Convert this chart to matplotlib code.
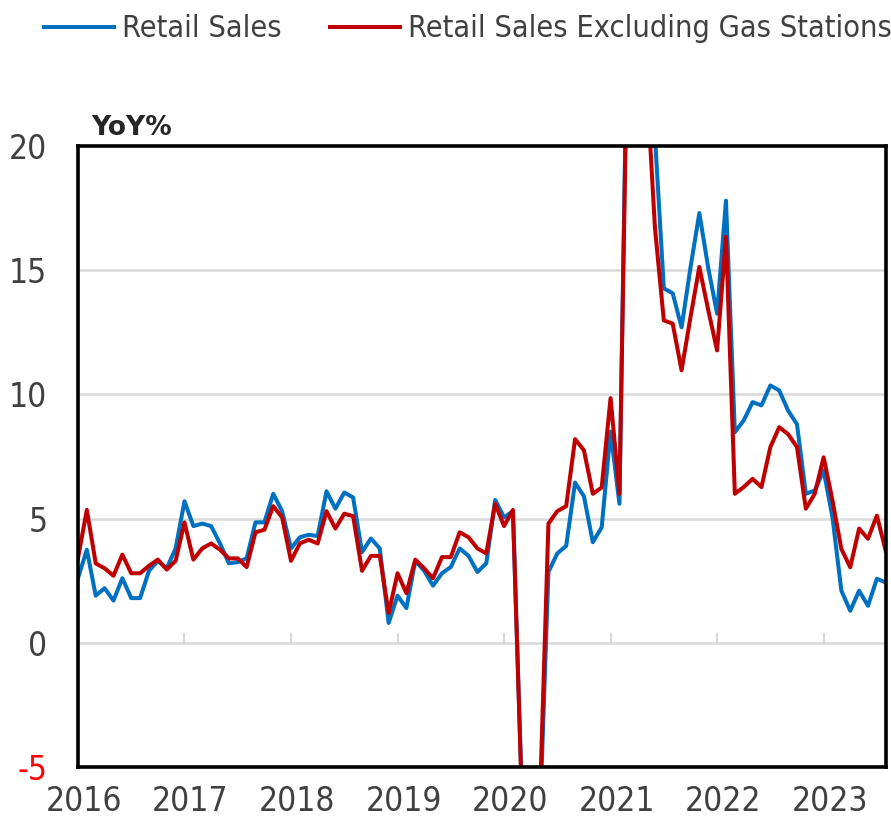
import matplotlib.pyplot as plt
import matplotlib.transforms as mtransforms
import numpy as np

# ....................................................... data (YoY %)
years = ['2016', '2017', '2018', '2019', '2020', '2021', '2022', '2023']
retail = [2.6, 3.75, 1.9, 2.2, 1.7, 2.6, 1.8, 1.8, 2.9, 3.3, 3.0, 3.8,
          5.7, 4.7, 4.8, 4.7, 4.0, 3.2, 3.25, 3.4, 4.85, 4.85, 6.0, 5.3,
          3.8, 4.25, 4.35, 4.3, 6.1, 5.4, 6.05, 5.85, 3.65, 4.2, 3.8, 0.8,
          1.9, 1.4, 3.3, 2.9, 2.3, 2.8, 3.05, 3.8, 3.5, 2.85, 3.2, 5.75,
          5.05, 5.3, -6.0, -19.9, -7.5, 2.85, 3.6, 3.9, 6.45, 5.9, 4.05, 4.65,
          8.5, 5.6, 28.0, 53.0, 28.0, 20.4, 14.27, 14.07, 12.7, 15.1, 17.3, 15.1,
          13.25, 17.8, 8.48, 8.95, 9.69, 9.56, 10.36, 10.16, 9.35, 8.8, 6.0, 6.13,
          6.94, 5.05, 2.1, 1.29, 2.1, 1.49, 2.58, 2.43]
retail_ex_gas = [3.4, 5.35, 3.2, 3.0, 2.7, 3.55, 2.8, 2.8, 3.1, 3.35, 2.95, 3.3,
                 4.85, 3.35, 3.8, 4.0, 3.75, 3.4, 3.4, 3.05, 4.45, 4.55, 5.5, 5.05,
                 3.3, 4.0, 4.15, 4.0, 5.3, 4.6, 5.2, 5.1, 2.9, 3.5, 3.5, 1.2,
                 2.8, 2.0, 3.35, 3.0, 2.6, 3.45, 3.45, 4.45, 4.25, 3.8, 3.6, 5.6,
                 4.7, 5.35, -6.2, -16.5, -6.8, 4.8, 5.3, 5.5, 8.2, 7.75, 6.0, 6.25,
                 9.85, 6.0, 26.5, 47.0, 23.0, 16.7, 12.98, 12.85, 10.97, 13.1, 15.13, 13.4,
                 11.77, 16.35, 6.0, 6.27, 6.6, 6.27, 7.88, 8.68, 8.4, 7.88, 5.4, 6.0,
                 7.47, 5.73, 3.78, 3.04, 4.6, 4.19, 5.12, 3.7]
yticks = [-5, 0, 5, 10, 15, 20]

# ....................................................... fonts
plt.rcParams['font.family'] = ['DejaVu Sans']
plt.rcParams['font.stretch'] = 'condensed'
txt = '#404040'

fig = plt.figure(figsize=(8.91, 8.23), dpi=100)
ax = fig.add_axes([0.0875, 0.068, 0.9066, 0.7546])

x = np.arange(len(retail))
ax.plot(x, retail, color='#0070C0', lw=2.9, label='Retail Sales', zorder=3)
ax.plot(x, retail_ex_gas, color='#C00000', lw=2.9,
        label='Retail Sales Excluding Gas Stations', zorder=4)

ax.set_xlim(0, len(retail) - 1)
ax.set_ylim(-5, 20)

# ....................................................... grid and zero axis
for v in yticks[1:-1]:
  ax.axhline(v, color='#D9D9D9', lw=1.8, zorder=1)
xt = np.arange(0, len(retail), 12)
ax.vlines(xt[1:], 0, 0.4, color='#D9D9D9', lw=1.5, zorder=1)

ax.set_xticks(xt)
ax.set_xticklabels(years)
ax.set_yticks(yticks)
ax.set_yticklabels([str(v) for v in yticks])
ax.tick_params(axis='both', length=0, labelsize=24, labelcolor=txt)
ax.tick_params(axis='x', pad=13)
ax.tick_params(axis='y', pad=22)
ax.get_yticklabels()[0].set_color('#FF0000')
shift = mtransforms.ScaledTranslation(0.06, 0, fig.dpi_scale_trans)
for lab in ax.get_xticklabels():
  lab.set_transform(lab.get_transform() + shift)

for s in ax.spines.values():
  s.set_linewidth(2.6)
  s.set_color('black')
  s.set_zorder(5)

ax.text(0.017, 1.008, 'YoY%', transform=ax.transAxes, fontsize=19,
        fontweight='bold', fontstretch='normal', color='#262626', va='bottom')

fig.legend(loc='upper center', bbox_to_anchor=(0.525, 1.016), ncol=2,
           frameon=False, fontsize=22, handlelength=2.3, handletextpad=0.25,
           columnspacing=1.6, labelcolor=txt)

plt.savefig('out.png', dpi=100)
